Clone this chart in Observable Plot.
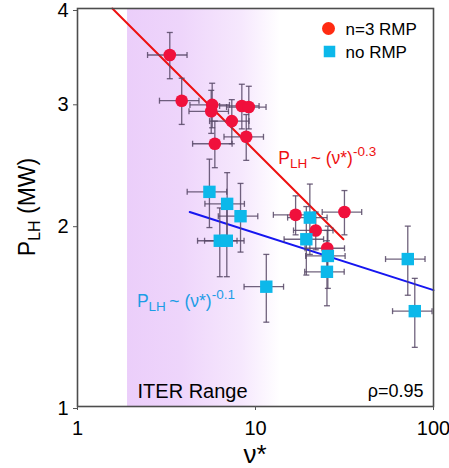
<!DOCTYPE html>
<html><head><meta charset="utf-8">
<script src="https://cdn.jsdelivr.net/npm/d3@7"></script>
<script src="https://cdn.jsdelivr.net/npm/@observablehq/plot@0.6"></script>
<style>body{margin:0;background:#fff} svg{display:block}</style>
</head><body><div id="chart"></div>
<script>
// ---- data ----
const redNu  = [3.30, 3.85, 5.71, 5.64, 7.36, 8.38, 9.17, 5.91, 8.87, 16.8, 31.6, 21.8, 25.3];
const redP   = [3.48, 3.02, 2.98, 2.92, 2.83, 2.97, 2.96, 2.63, 2.69, 2.07, 2.09, 1.96, 1.84];
const redErr = [0.245, 0.22, 0.21, 0.20, 0.20, 0.21, 0.20, 0.20, 0.20, 0.14, 0.16, 0.13, 0.12];
const blueNu  = [5.51, 6.93, 8.24, 6.30, 6.90, 11.5, 20.2, 19.3, 25.5, 25.2, 71.7, 78.5];
const blueP   = [2.24, 2.15, 2.06, 1.89, 1.89, 1.60, 2.05, 1.90, 1.79, 1.69, 1.77, 1.46];
const blueErr = [0.26, 0.24, 0.245, 0.23, 0.23, 0.20, 0.25, 0.23, 0.20, 0.20, 0.22, 0.19];
const xErrFrac = 0.25;
const redFitNu = [1.57, 31.2], redFitP = [4.0, 1.90];
const blueFitNu = [4.27, 100], blueFitP = [2.09, 1.58];
const iterRange = [1.91, 13.8];
const xTicks = [1, 10, 100];
const yTicks = [1, 2, 3, 4];
const xDomain = [1, 100], yDomain = [1, 4];
const legendLabels = ["n=3 RMP", "no RMP"];
const iterLabel = "ITER Range";
const rhoLabel = "\u03C1=0.95";
const redFitLabel = {nu: 13.5, p: 2.46, exp: "-0.3"};
const blueFitLabel = {nu: 2.17, p: 1.48, exp: "-0.1"};

// ---- styles ----
const FONT = "'Liberation Sans', Arial, Helvetica, sans-serif";
const RED = "#f0103c", RED_LEG = "#ff2b12", RED_LINE = "#ee1111";
const BLUE = "#0cb8ea", BLUE_LINE = "#1616f0", BLUE_TXT = "#1c9de6";
const ERR = "#574866";

const red = redNu.map((nu, i) => ({nu, p: redP[i], e: redErr[i]}));
const blue = blueNu.map((nu, i) => ({nu, p: blueP[i], e: blueErr[i]}));
const redFit = redFitNu.map((nu, i) => ({nu, p: redFitP[i]}));
const blueFit = blueFitNu.map((nu, i) => ({nu, p: blueFitP[i]}));

const capH = {draw(ctx, size) { const r = Math.sqrt(size / Math.PI); ctx.moveTo(-r, 0); ctx.lineTo(r, 0); }};
const capV = {draw(ctx, size) { const r = Math.sqrt(size / Math.PI); ctx.moveTo(0, -r); ctx.lineTo(0, r); }};

function errMarks(data) {
  const s = {stroke: ERR, strokeWidth: 1.3, strokeOpacity: 0.85};
  return [
    Plot.link(data, {x1: d => d.nu * (1 - xErrFrac), x2: d => d.nu * (1 + xErrFrac), y1: "p", y2: "p", ...s}),
    Plot.link(data, {x1: "nu", x2: "nu", y1: d => d.p - d.e, y2: d => d.p + d.e, ...s}),
    Plot.dot(data, {x: d => d.nu * (1 - xErrFrac), y: "p", symbol: capV, r: 3, fill: "none", ...s}),
    Plot.dot(data, {x: d => d.nu * (1 + xErrFrac), y: "p", symbol: capV, r: 3, fill: "none", ...s}),
    Plot.dot(data, {x: "nu", y: d => d.p - d.e, symbol: capH, r: 3, fill: "none", ...s}),
    Plot.dot(data, {x: "nu", y: d => d.p + d.e, symbol: capH, r: 3, fill: "none", ...s})
  ];
}

const plot = Plot.plot({
  width: 449, height: 468,
  marginLeft: 77, marginRight: 16, marginTop: 8, marginBottom: 62,
  style: {fontFamily: FONT, fontSize: "20px", color: "black", background: "white", overflow: "visible"},
  x: {type: "log", domain: xDomain},
  y: {type: "pow", exponent: 0.25, domain: yDomain},
  marks: [
    Plot.rect([{x1: iterRange[0], x2: iterRange[1], y1: yDomain[0], y2: yDomain[1]}],
      {x1: "x1", x2: "x2", y1: "y1", y2: "y2", fill: "url(#iterGrad)"}),
    Plot.line(redFit, {x: "nu", y: "p", stroke: RED_LINE, strokeWidth: 2}),
    Plot.line(blueFit, {x: "nu", y: "p", stroke: BLUE_LINE, strokeWidth: 2}),
    ...errMarks(red),
    ...errMarks(blue),
    Plot.dot(red, {x: "nu", y: "p", r: 6.3, fill: RED}),
    Plot.dot(blue, {x: "nu", y: "p", r: 7, symbol: "square", fill: BLUE}),
    Plot.frame({stroke: "#4d4d4d", strokeWidth: 1.6}),
    Plot.axisX({ticks: xTicks, tickFormat: d => String(d), tickSize: 4, tickPadding: 10, fontSize: 20, stroke: "#555", fill: "black", label: null}),
    Plot.axisY({ticks: yTicks, tickFormat: d => String(d), tickSize: 4, tickPadding: 5, fontSize: 20, stroke: "#555", fill: "black", label: null, dy: 2}),
    // legend
    Plot.dot([legendLabels[0]], {frameAnchor: "top-right", dx: -105, dy: 20, r: 6.5, fill: RED_LEG}),
    Plot.dot([legendLabels[1]], {frameAnchor: "top-right", dx: -104, dy: 43, r: 6.5, symbol: "square", fill: BLUE}),
    Plot.text([legendLabels[0]], {frameAnchor: "top-right", text: d => d, dx: -88, dy: 26, lineAnchor: "bottom", textAnchor: "start", fontSize: 17, fill: "black"}),
    Plot.text([legendLabels[1]], {frameAnchor: "top-right", text: d => d, dx: -88, dy: 49, lineAnchor: "bottom", textAnchor: "start", fontSize: 17, fill: "black"}),
    // range & correlation labels
    Plot.text([{nu: iterRange[0], label: iterLabel}], {x: "nu", frameAnchor: "bottom", text: "label", dx: 10, dy: -9, lineAnchor: "bottom", textAnchor: "start", fontSize: 20, fill: "black"}),
    Plot.text([rhoLabel], {frameAnchor: "bottom-right", text: d => d, dx: -10, dy: -10, lineAnchor: "bottom", textAnchor: "end", fontSize: 18, fill: "black"})
  ]
});

const svg = plot;
// gradient for ITER range
const defs = d3.select(svg).insert("defs", ":first-child");
const grad = defs.append("linearGradient").attr("id", "iterGrad").attr("x1", 0).attr("x2", 1).attr("y1", 0).attr("y2", 0);
[[0, "#ebcefa"], [0.35, "#eed5fb"], [0.75, "#f6e8fd"], [1, "#ffffff"]].forEach(([o, c]) =>
  grad.append("stop").attr("offset", o).attr("stop-color", c));
d3.select(svg).selectAll('g[aria-label="rect"] rect').attr("fill", "url(#iterGrad)");

const xs = plot.scale("x"), ys = plot.scale("y");
function fitLabel(l, color) {
  const t = d3.select(svg).append("text")
    .attr("x", xs.apply(l.nu)).attr("y", ys.apply(l.p))
    .attr("text-anchor", "start")
    .attr("fill", color).attr("font-size", 17.5).attr("font-family", FONT);
  t.append("tspan").text("P");
  t.append("tspan").attr("font-size", 13.5).attr("dy", 4).text("LH");
  t.append("tspan").attr("dy", -4).text("\u2009~ (\u03BD*)");
  t.append("tspan").attr("font-size", 13.5).attr("dy", -8).text(l.exp);
}
fitLabel(redFitLabel, RED_LINE);
fitLabel(blueFitLabel, BLUE_TXT);

// axis titles
const xr = xs.range, yr = ys.range;
d3.select(svg).append("text")
  .attr("x", (xr[0] + xr[1]) / 2).attr("y", 463)
  .attr("text-anchor", "middle").attr("font-size", 26).attr("font-family", FONT).attr("fill", "black")
  .text("\u03BD*");
const yl = d3.select(svg).append("text")
  .attr("transform", `translate(35,${(yr[0] + yr[1]) / 2}) rotate(-90)`)
  .attr("text-anchor", "middle").attr("font-size", 23).attr("font-family", FONT).attr("fill", "black");
yl.append("tspan").text("P");
yl.append("tspan").attr("font-size", 16).attr("dy", 5).text("LH");
yl.append("tspan").attr("dy", -5).text(" (MW)");

document.getElementById("chart").appendChild(svg);
</script>
</body></html>
